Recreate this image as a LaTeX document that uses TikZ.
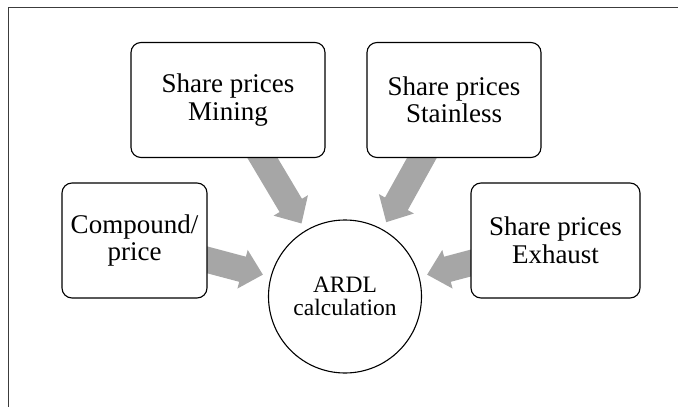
\documentclass[tikz,border=0pt]{standalone}
\usepackage{fontspec}
\setmainfont{Liberation Serif}
\usetikzlibrary{calc,backgrounds}

\definecolor{arrowgray}{HTML}{A6A6A6}
\definecolor{framegray}{HTML}{3C3C3C}

\tikzset{
  inputbox/.style={draw=black, line width=1.1pt, fill=white, rounded corners=10pt,
    align=center, inner sep=0pt, minimum height=115pt,
    font=\fontsize{27}{27.5}\selectfont},
  resultcircle/.style={draw=black, line width=1.1pt, fill=white, circle,
    minimum size=153pt, inner sep=0pt, align=center,
    font=\fontsize{23.5}{23.5}\selectfont},
  blockarrow/.style={fill=arrowgray},
}

% Wide block arrow from the centre of node #1 towards node #2,
% stopping a little short of the circle.
\newcommand\flowarrow[2]{%
  \coordinate (T) at ($(#2)!85pt!(#1)$);
  \coordinate (B) at ($(T)!21pt!(#1)$);
  \fill[blockarrow]
    ($(#1)!13pt!90:(T)$) -- ($(B)!13pt!90:(T)$) -- ($(B)!20pt!90:(T)$) --
    (T) --
    ($(B)!20pt!-90:(T)$) -- ($(B)!13pt!-90:(T)$) -- ($(#1)!13pt!-90:(T)$) -- cycle;%
}

\begin{document}
\begin{tikzpicture}[x=1pt, y=-1pt]
  \useasboundingbox (0,0) rectangle (678,407);

  % open frame along the top and left
  \draw[framegray, line width=1pt] (8.5,407) -- (8.5,7.5) -- (678,7.5);

  \node[inputbox, minimum width=194pt] (mining)    at (228,100)   {Share prices\\Mining};
  \node[inputbox, minimum width=174pt] (stainless) at (454,100)   {Share prices\\Stainless};
  \node[inputbox, minimum width=145pt] (compound)  at (134.5,240.5) {Compound/\\price};
  \node[inputbox, minimum width=169pt] (exhaust)   at (555.5,240.5) {Share prices\\Exhaust};
  \node[resultcircle] (ardl) at (345,296.5) {ARDL\\calculation};

  \begin{pgfonlayer}{background}
    \flowarrow{compound}{ardl}
    \flowarrow{mining}{ardl}
    \flowarrow{stainless}{ardl}
    \flowarrow{exhaust}{ardl}
  \end{pgfonlayer}
\end{tikzpicture}
\end{document}
